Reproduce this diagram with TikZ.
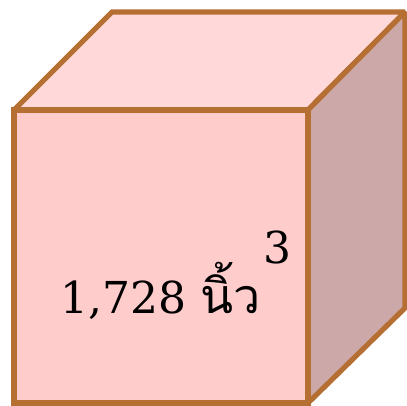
\documentclass[tikz,border=0pt]{standalone}
\usepackage{fontspec}
\setmainfont{DejaVu Serif}
\newfontfamily\thaifont[Script=Thai,Scale=1.1]{Loma}
\usepackage{xcolor}
\definecolor{edgec}{HTML}{B56F33}
\definecolor{frontc}{HTML}{FFCCCC}
\definecolor{topc}{HTML}{FFD9D9}
\definecolor{sidec}{HTML}{CCA8A8}
\tikzset{
  face/.style ={draw=edgec, line width=3.9pt, line join=miter, miter limit=1.5},
  lbl/.style  ={inner sep=0pt, font=\fontsize{33}{33}\selectfont, text=black},
}
\begin{document}
\begin{tikzpicture}[x=0.75pt, y=-0.75pt]
  \useasboundingbox (0,0) rectangle (407,406);
  \coordinate (fa) at (14,110);
  \coordinate (fb) at (308,110);
  \coordinate (fc) at (308,403);
  \coordinate (fd) at (14,403);
  \coordinate (ba) at (112,12);
  \coordinate (bb) at (405,12);
  \coordinate (bc) at (405,308);
  \draw[face, fill=topc] (fa)--(ba)--(bb)--(fb)--cycle;
  \draw[face, fill=sidec] (fb)--(bb)--(bc)--(fc)--cycle;
  \draw[face, fill=frontc] (fa)--(fb)--(fc)--(fd)--cycle;
  \node[lbl, anchor=base west] (vol) at (60,313) {1,728 {\thaifont นิ้ว}};
  \node[lbl, anchor=base west] (pow) at (263,263) {3};
\end{tikzpicture}
\end{document}
